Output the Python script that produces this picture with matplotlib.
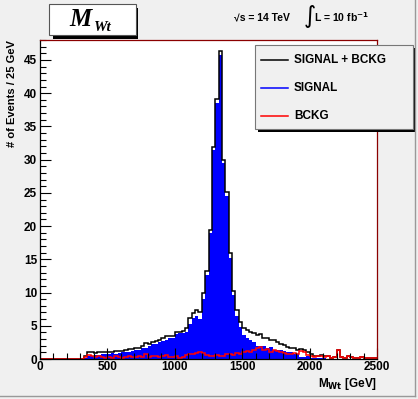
import numpy as np
import matplotlib
matplotlib.use("Agg")
import matplotlib.pyplot as plt
from matplotlib.patches import Rectangle
from matplotlib.ticker import MultipleLocator

# histogram binning: 100 bins of 25 GeV from 0 to 2500
edges = np.arange(0, 2501, 25)

# SIGNAL (blue, filled)
signal = [0, 0, 0, 0, 0, 0, 0, 0, 0, 0,
          0, 0, 0, 0.2, 0.4, 0.5, 0.6, 0.6, 0.7, 0.8,
          0.8, 0.9, 0.8, 0.9, 1.0, 1.1, 1.0, 1.2, 1.3, 1.3,
          1.7, 1.6, 1.9, 2.2, 2.2, 2.6, 2.7, 2.9, 3.2, 3.2,
          3.7, 3.9, 3.9, 4.0, 5.3, 6.1, 6.4, 6.0, 9.1, 12.6,
          18.9, 31.5, 38.5, 45.8, 29.5, 24.5, 15.2, 9.6, 6.5, 4.8,
          3.6, 3.1, 2.9, 2.5, 2.0, 2.0, 1.9, 1.7, 1.8, 1.4,
          1.3, 1.3, 1.2, 1.0, 1.0, 0.7, 0.7, 0.3, 0.3, 0.4,
          0.2, 0.2, 0.1, 0.1, 0.1, 0, 0, 0, 0, 0,
          0, 0, 0, 0, 0, 0, 0, 0, 0, 0]

# BCKG (red)
bckg = [0, 0, 0, 0, 0, 0, 0, 0, 0, 0,
        0, 0, 0, 0.3, 0.6, 0.5, 0.3, 0.4, 0.3, 0.2,
        0.3, 0.2, 0.4, 0.3, 0.2, 0.3, 0.5, 0.3, 0.3, 0.4,
        0.3, 0.8, 0.3, 0.4, 0.5, 0.3, 0.4, 0.6, 0.3, 0.3,
        0.4, 0.2, 0.3, 0.6, 0.8, 0.8, 0.9, 1.0, 0.9, 0.6,
        0.5, 0.4, 0.6, 0.5, 0.4, 0.7, 0.8, 0.6, 0.9, 0.7,
        1.1, 1.2, 1.1, 1.4, 1.6, 1.8, 1.3, 1.5, 1.0, 1.4,
        1.2, 1.0, 0.9, 0.8, 0.7, 0.9, 0.7, 1.2, 1.0, 0.6,
        0.5, 0.3, 0.4, 0.5, 0.3, 0.4, 0.2, 0.3, 1.4, 0.3,
        0.2, 0.4, 0.3, 0.2, 0.1, 0.3, 0.1, 0.2, 0.1, 0.1]

total = np.array(signal) + np.array(bckg)

legend_labels = ["SIGNAL + BCKG", "SIGNAL", "BCKG"]

W, H = 418, 399
bg = "#f0f0f0"
fig = plt.figure(figsize=(W / 100, H / 100), dpi=100, facecolor=bg)
sans = ["Liberation Sans", "DejaVu Sans"]


def fx(px):
    return px / W


def fy(py):
    return 1 - py / H


ax = fig.add_axes([fx(40), fy(359), fx(377) - fx(40), fy(40) - fy(359)])
ax.set_facecolor("white")

ax.stairs(signal, edges, fill=True, color="#0000ff", lw=0)
ax.stairs(total, edges, color="black", lw=1.1)
ax.stairs(bckg, edges, color="#ff0000", lw=1.1)

ax.set_xlim(0, 2500)
ax.set_ylim(0, 48)
ax.xaxis.set_major_locator(MultipleLocator(500))
ax.xaxis.set_minor_locator(MultipleLocator(100))
ax.yaxis.set_major_locator(MultipleLocator(5))
ax.yaxis.set_minor_locator(MultipleLocator(1))
ax.tick_params(which="both", direction="in", top=False, right=False)
ax.tick_params(which="major", length=8, width=0.8)
ax.tick_params(which="minor", length=4, width=0.8)
ax.tick_params(axis="y", pad=2)
ax.tick_params(axis="x", pad=1.5)
for lab in ax.get_xticklabels() + ax.get_yticklabels():
    lab.set_fontfamily(sans)
    lab.set_fontweight("bold")
    lab.set_fontsize(8.5)

for s in ["top", "right"]:
    ax.spines[s].set_color("#8b0000")
for s in ax.spines.values():
    s.set_linewidth(0.9)

# axis titles
fig.text(fx(12), fy(40), "# of Events / 25 GeV", rotation=90, ha="center", va="top",
         fontsize=8, fontweight="bold", family=sans)
fig.text(fx(377), fy(384), r"M$_{\mathbf{Wt}}$ [GeV]", ha="right", va="center",
         fontsize=8.5, fontweight="bold", family=sans)

# title box with shadow
fig.patches.append(Rectangle((fx(53), fy(39)), fx(85), fy(4) - fy(35), transform=fig.transFigure,
                             facecolor="black", edgecolor="black", lw=0))
fig.patches.append(Rectangle((fx(49), fy(35)), fx(87), fy(4) - fy(35), transform=fig.transFigure,
                             facecolor="white", edgecolor="#555555", lw=0.8))
fig.text(fx(69), fy(26), "M", ha="left", va="baseline", fontsize=18, fontweight="bold",
         style="italic", family="Liberation Serif")
fig.text(fx(94), fy(31), "Wt", ha="left", va="baseline", fontsize=11, fontweight="bold",
         style="italic", family="Liberation Serif")

# energy / lumi text
fig.text(fx(234), fy(17), "\u221as = 14 TeV", ha="left", va="center",
         fontsize=7.5, fontweight="bold", family=sans)
fig.text(fx(303), fy(17), r"$\int$", ha="left", va="center", fontsize=12, family=sans)
fig.text(fx(314), fy(17), r"L = 10 fb$^{\mathbf{-1}}$", ha="left", va="center",
         fontsize=7.5, fontweight="bold", family=sans)

# legend box with shadow
fig.patches.append(Rectangle((fx(258), fy(132)), fx(158), fy(45) - fy(129), transform=fig.transFigure,
                             facecolor="black", edgecolor="black", lw=0))
fig.patches.append(Rectangle((fx(255), fy(129)), fx(158), fy(45) - fy(129), transform=fig.transFigure,
                             facecolor=bg, edgecolor="#777777", lw=0.8))
for lab, col, yy in zip(legend_labels, ["black", "#0000ff", "#ff0000"], [60, 88, 116]):
    fig.lines.append(plt.Line2D([fx(261), fx(288)], [fy(yy), fy(yy)], transform=fig.transFigure,
                                color=col, lw=1.1))
    fig.text(fx(294), fy(yy), lab, ha="left", va="center", fontsize=8.5, fontweight="bold",
             family=sans)

# canvas bevel
fig.lines.append(plt.Line2D([fx(415), fx(415)], [fy(0), fy(396)], transform=fig.transFigure,
                            color="#999999", lw=1))
fig.lines.append(plt.Line2D([fx(0), fx(415)], [fy(396), fy(396)], transform=fig.transFigure,
                            color="#999999", lw=1))

fig.savefig("out.png", dpi=100, facecolor=bg)
